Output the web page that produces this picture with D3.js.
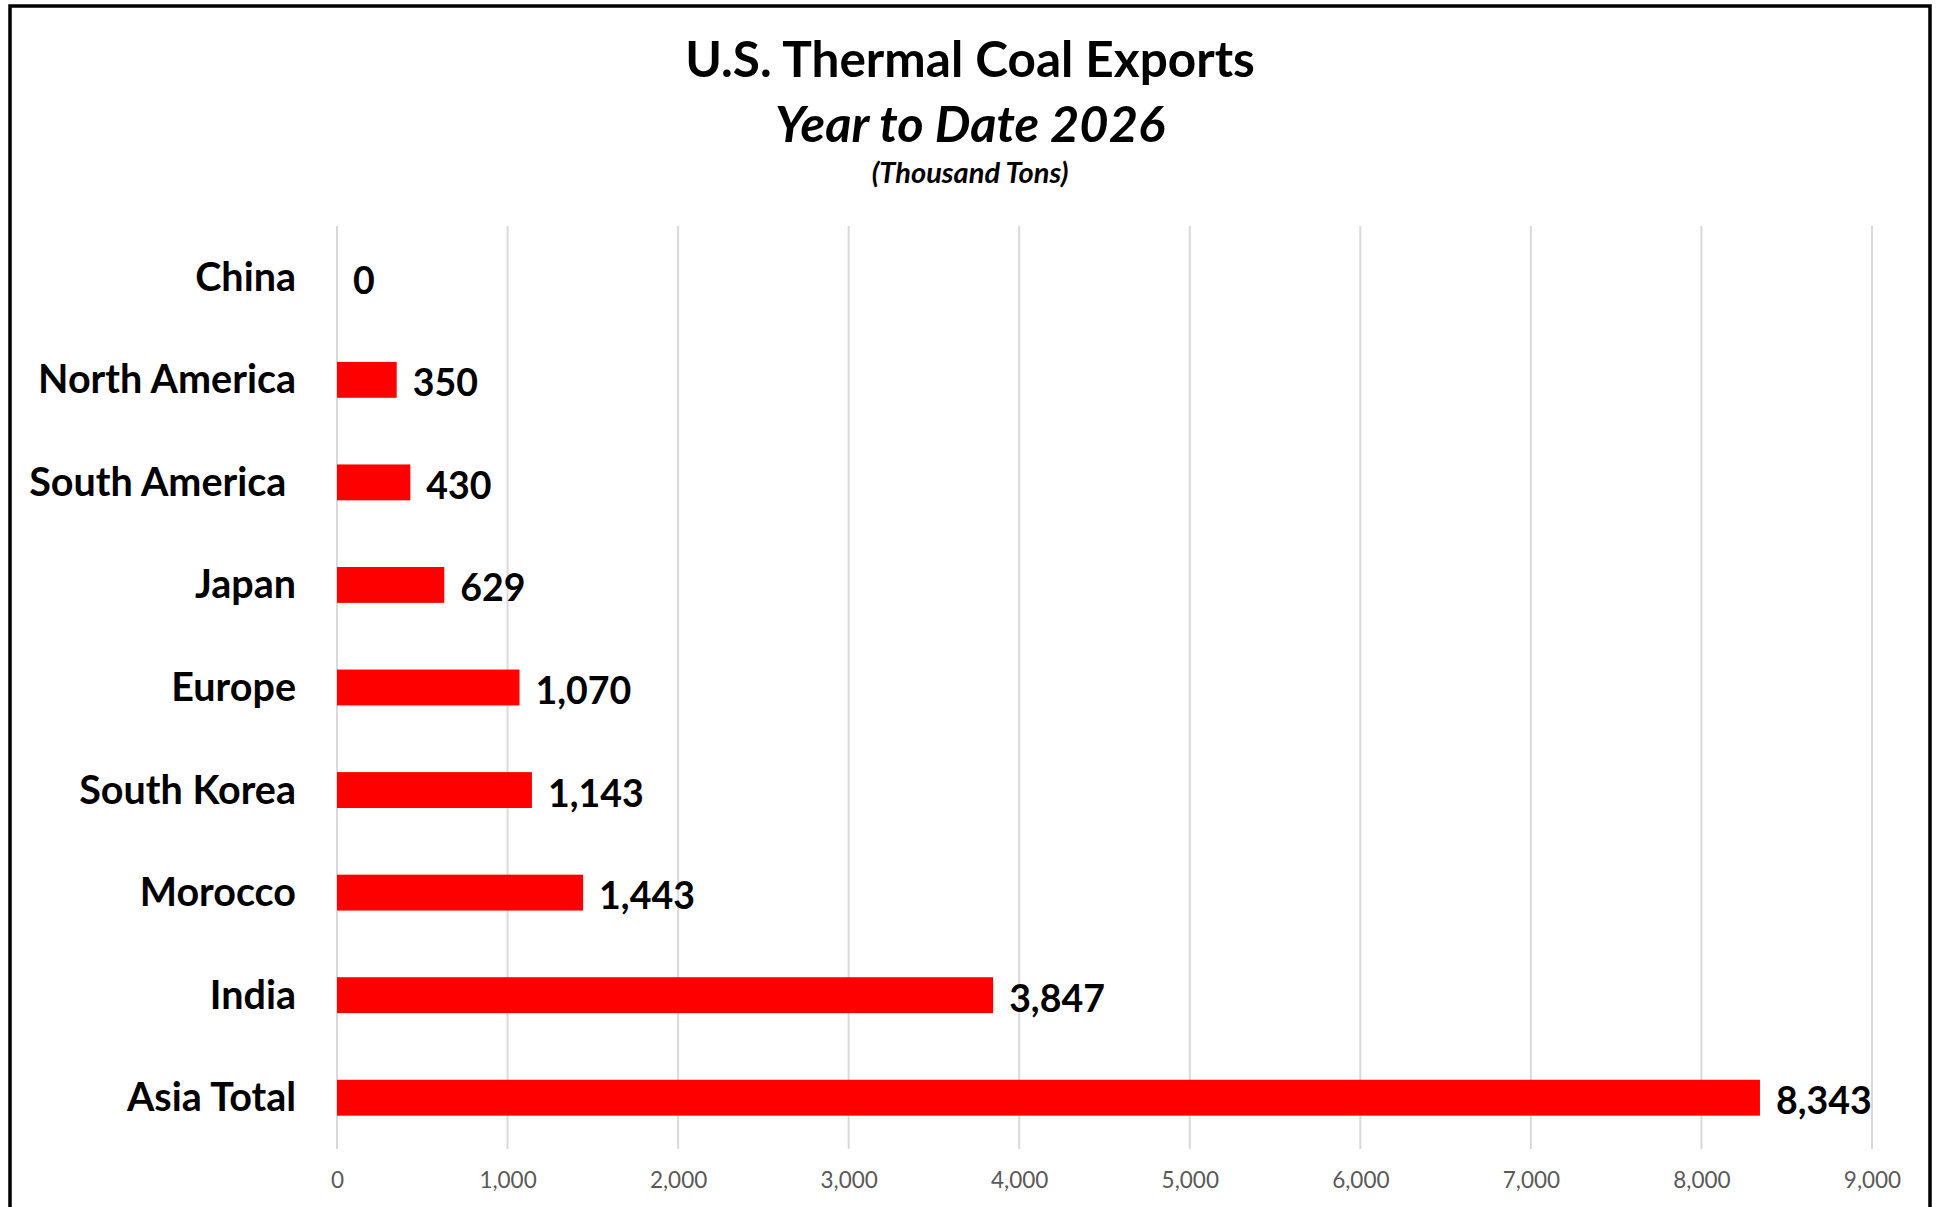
<!DOCTYPE html>
<html>
    <head>
        <title>U.S. Thermal Coal Exports</title>
        <script src="https://d3js.org/d3.v7.min.js"></script>
        <style>
            body { margin: 0; background: #fff; }
            text { font-family: Lato, "Open Sans", sans-serif; }
        </style>
    </head>
    <body>
        <div id="chart"></div>
        <script>
            //  data (thousand tons)
            const categories = ["China", "North America", "South America ", "Japan", "Europe",
                                "South Korea", "Morocco", "India", "Asia Total"];
            const exportsYTD = [0, 350, 430, 629, 1070, 1143, 1443, 3847, 8343];
            const xTicks = [0, 1000, 2000, 3000, 4000, 5000, 6000, 7000, 8000, 9000];

            const width = 1939;
            const height = 1207;
            const plot = { left: 337, right: 1872, top: 226, bottom: 1149 };

            const rows = categories.map((c, i) => ({ name: c, value: exportsYTD[i] }));

            const svg = d3.select("#chart")
                .append("svg")
                    .attr("width", width)
                    .attr("height", height);

            //  scales
            const x = d3.scaleLinear()
                .domain([0, 9000])
                .range([plot.left, plot.right]);

            const y = d3.scaleBand()
                .domain(categories)
                .range([plot.top, plot.bottom])
                .paddingInner(0.65)
                .paddingOuter(0.325);

            const fmt = d3.format(",");

            //  gridlines
            svg.append("g")
                .selectAll("line")
                .data(xTicks)
                .join("line")
                    .attr("x1", d => x(d))
                    .attr("x2", d => x(d))
                    .attr("y1", plot.top)
                    .attr("y2", plot.bottom)
                    .attr("stroke", "#d9d9d9")
                    .attr("stroke-width", 2);

            //  x axis, labels only
            const xAxis = svg.append("g")
                .attr("transform", `translate(0,${plot.bottom + 20})`)
                .call(d3.axisBottom(x).tickValues(xTicks).tickSize(0).tickFormat(fmt));
            xAxis.select(".domain").remove();
            xAxis.selectAll("text")
                .attr("font-family", "Lato, sans-serif")
                .attr("font-size", 22.5)
                .attr("fill", "#595959")
                .attr("dy", "0.71em");

            //  bars
            svg.append("g")
                .selectAll("rect")
                .data(rows)
                .join("rect")
                    .attr("x", x(0))
                    .attr("y", d => y(d.name))
                    .attr("width", d => x(d.value) - x(0))
                    .attr("height", y.bandwidth())
                    .attr("fill", "#ff0000");

            //  value labels
            svg.append("g")
                .selectAll("text")
                .data(rows)
                .join("text")
                    .attr("x", d => x(d.value) + 16)
                    .attr("y", d => y(d.name) + y.bandwidth() / 2 + 2)
                    .attr("dominant-baseline", "central")
                    .attr("font-size", 37.5)
                    .attr("font-weight", "bold")
                    .attr("fill", "#000")
                    .text(d => fmt(d.value));

            //  category labels
            svg.append("g")
                .selectAll("text")
                .data(rows)
                .join("text")
                    .attr("x", 296)
                    .attr("y", d => y(d.name) + y.bandwidth() / 2 - 2)
                    .attr("text-anchor", "end")
                    .attr("dominant-baseline", "central")
                    .attr("font-size", 39.5)
                    .attr("font-weight", "bold")
                    .attr("fill", "#000")
                    .style("white-space", "pre")
                    .text(d => d.name);

            //  titles
            svg.append("text")
                .attr("x", 970).attr("y", 77)
                .attr("text-anchor", "middle")
                .attr("font-size", 49.5)
                .attr("font-weight", "bold")
                .text("U.S. Thermal Coal Exports");

            svg.append("text")
                .attr("x", 970).attr("y", 142)
                .attr("text-anchor", "middle")
                .attr("font-size", 50.5)
                .attr("font-weight", "bold")
                .attr("font-style", "italic")
                .text("Year to Date 2026");

            svg.append("text")
                .attr("x", 970).attr("y", 183)
                .attr("text-anchor", "middle")
                .attr("font-size", 29)
                .attr("font-weight", "bold")
                .attr("font-style", "italic")
                .text("(Thousand Tons)");

            //  outer frame
            svg.append("rect")
                .attr("x", 10).attr("y", 6)
                .attr("width", 1920).attr("height", 1260)
                .attr("fill", "none")
                .attr("stroke", "#000")
                .attr("stroke-width", 3.5);
        </script>
    </body>
</html>
